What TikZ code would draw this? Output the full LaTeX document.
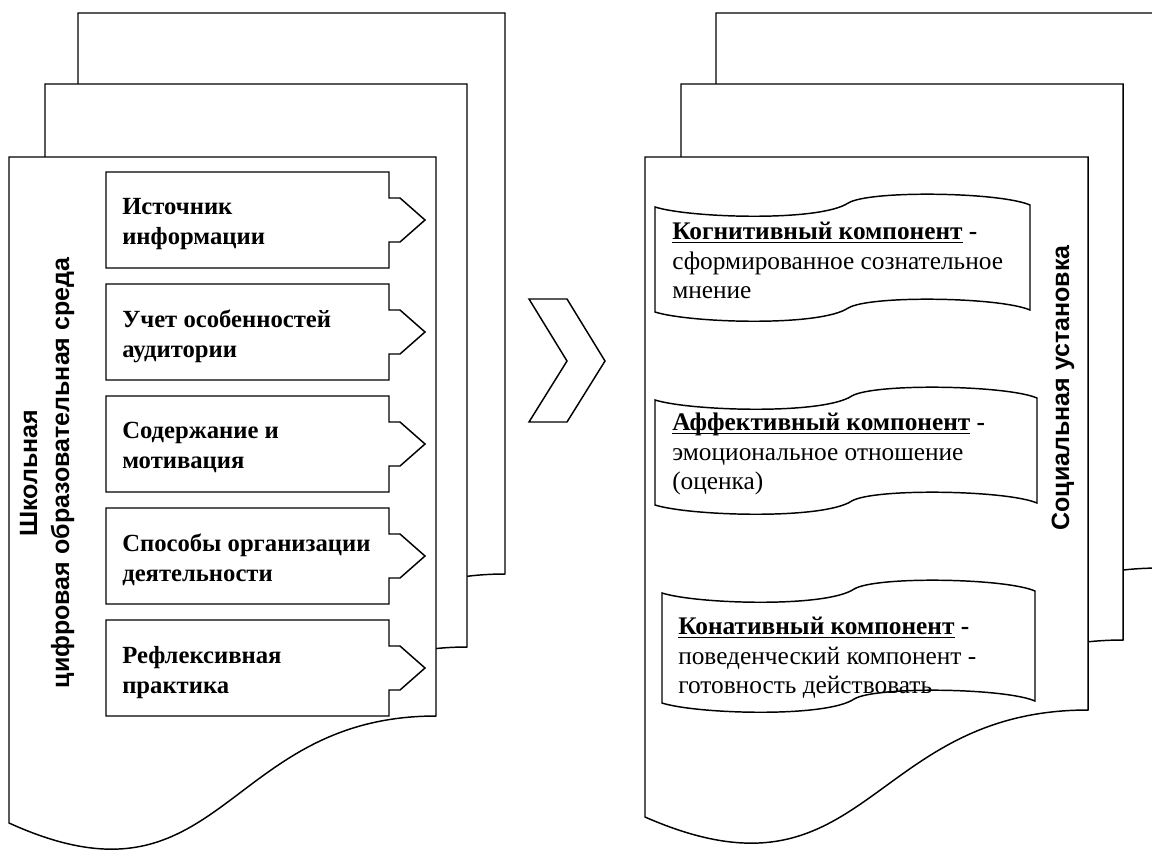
\documentclass[tikz,border=0pt]{standalone}
\usepackage{fontspec}
\setmainfont{Liberation Serif}
\newfontfamily\lblsans{Liberation Sans Bold}
\newcommand\docpage[5]{%
  \draw[pg] (#1,#2) -- (#3,#2) -- (#3,#4)
    .. controls ({(#1+#3)/2},#4) and ({(#1+#3)/2},{#5+97}) .. (#1,#5) -- cycle;}
\newcommand\arrowbox[2]{%
  \draw[bx] (106,#2) -- (389,#2) -- (389,{#2+26}) -- (400,{#2+26}) -- (425,{#2+48})
    -- (400,{#2+70}) -- (389,{#2+70}) -- (389,{#2+96}) -- (106,{#2+96}) -- cycle;
  \coordinate (#1) at (122,{#2+26});}
\newcommand\wavebox[5]{%
  \draw[bx] (#2,#3) .. controls ({#2+0.093*#4},{#3+11}) and ({#2+0.44*#4},{#3+15})
      .. ({#2+0.515*#4},{#3-4}) .. controls ({#2+0.573*#4},{#3-17}) and ({#2+0.92*#4},{#3-15})
      .. ({#2+#4},{#3-2})
    -- ({#2+#4},{#3-2+#5})
      .. controls ({#2+0.92*#4},{#3-15+#5}) and ({#2+0.573*#4},{#3-17+#5})
      .. ({#2+0.515*#4},{#3-4+#5}) .. controls ({#2+0.44*#4},{#3+15+#5}) and ({#2+0.093*#4},{#3+11+#5})
      .. (#2,{#3+#5}) -- cycle;
  \coordinate (#1) at (#2,#3);}
\newsavebox\ulbox
\newcommand\myul[1]{\sbox\ulbox{#1}\rlap{\rule[-2.6pt]{\wd\ulbox}{1.1pt}}\usebox\ulbox}
\begin{document}
\begin{tikzpicture}[x=0.75pt,y=-0.75pt,
  pg/.style={draw=black,line width=1.1pt,fill=white},
  bx/.style={draw=black,line width=1.1pt,fill=white},
  ltext/.style={font=\bfseries\fontsize{18.5}{22.5}\selectfont,align=left,inner sep=0pt,anchor=north west},
  rtext/.style={font=\fontsize{19}{22}\selectfont,align=left,inner sep=0pt,anchor=north west},
  vtext/.style={font=\lblsans\fontsize{18.75}{24}\selectfont,rotate=90,align=center,inner sep=0pt}]
\useasboundingbox (0,0) rectangle (1152,851);
% left stack of pages
\docpage{78}{13}{505}{574}{680}
\docpage{45}{84}{467}{647}{753}
\docpage{9}{157}{436}{716}{823}
% right stack of pages
\docpage{716}{13}{1160}{568}{675}
\docpage{681}{84}{1123}{640}{747}
\docpage{645}{157}{1088}{710}{817}
% left boxes
\arrowbox{b1}{172}
\arrowbox{b2}{284}
\arrowbox{b3}{396}
\arrowbox{b4}{508}
\arrowbox{b5}{620}
\node[ltext] (t1) at (b1) {Источник\\информации};
\node[ltext] (t2) at (b2) {Учет особенностей\\аудитории};
\node[ltext] (t3) at (b3) {Содержание и\\мотивация};
\node[ltext] (t4) at (b4) {Способы организации\\деятельности};
\node[ltext] (t5) at (b5) {Рефлексивная\\практика};
\node[vtext] (env) at (47,473) {Школьная\\цифровая образовательная среда};
% chevron
\draw[bx] (529,299) coordinate (ch) -- (567,299) -- (605,361) -- (567,422) -- (529,422) -- (567,361) -- cycle;
% right wave boxes
\wavebox{w1}{655}{207}{375}{105}
\wavebox{w2}{655}{400}{382}{105}
\wavebox{w3}{662}{593}{373}{110}
\node[rtext] (c1) at (672,222) {\textbf{\myul{Когнитивный компонент} -}\\сформированное сознательное\\мнение};
\node[rtext] (c2) at (672,413) {\textbf{\myul{Аффективный компонент} -}\\эмоциональное отношение\\(оценка)};
\node[rtext] (c3) at (678,617) {\textbf{\myul{Конативный компонент} -}\\поведенческий компонент -\\готовность действовать};
\node[vtext] (soc) at (1063,388) {Социальная установка};
\end{tikzpicture}
\end{document}
